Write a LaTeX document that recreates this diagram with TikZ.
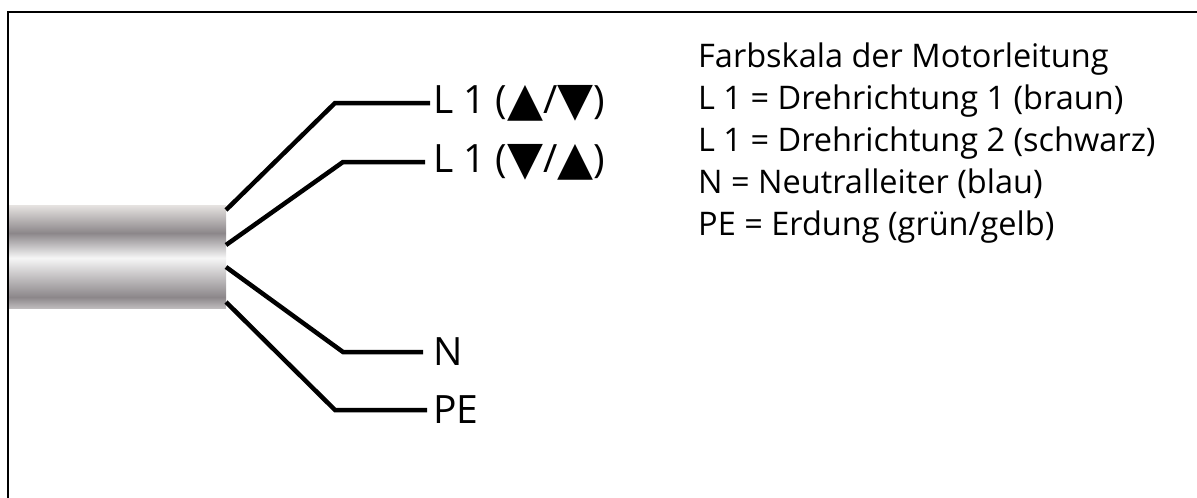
\documentclass[tikz,border=0pt]{standalone}
\usepackage{fontspec}
\setmainfont{Open Sans}
\newfontfamily\symfont{DejaVu Sans}
\usetikzlibrary{positioning}

\definecolor{cabtop}{RGB}{230,227,225}
\definecolor{cabdark}{RGB}{140,135,138}
\definecolor{cablight}{RGB}{246,246,246}
\definecolor{cabbot}{RGB}{190,187,188}
\pgfdeclareverticalshading{cableshade}{100bp}{color(0bp)=(cabbot); color(25bp)=(cabbot); color(30.3bp)=(cabdark); color(49.3bp)=(cablight); color(61.4bp)=(cabdark); color(75bp)=(cabtop); color(100bp)=(cabtop)}

\newcommand{\triup}{\raisebox{-0.04em}{\scalebox{1.2}{\symfont ▲}}}
\newcommand{\tridn}{\raisebox{-0.04em}{\scalebox{1.2}{\symfont ▼}}}

\begin{document}
\begin{tikzpicture}[x=1pt,y=1pt,yscale=-1,
  wire/.style={line width=4.5pt},
  lead/.style={inner sep=0pt,font=\fontsize{39}{39}\selectfont},
  legend/.style={anchor=north west,inner sep=0pt,align=left,font=\fontsize{32.5}{42}\selectfont}]
\useasboundingbox (0,0) rectangle (1197,498);

%Frame
\draw[line width=1.6pt] (8,498) -- (8,12) -- (1197,12);
%Cable
\shade[shading=cableshade] (9,205) rectangle (226,308);

%Wire ends at the cable
\coordinate (c1) at (226,210);
\coordinate (c2) at (226,245);
\coordinate (c3) at (226,267);
\coordinate (c4) at (226,302);
%Bends
\coordinate (b1) at (335,103);
\coordinate (b2) at (343,162);
\coordinate (b3) at (343,352);
\coordinate (b4) at (335,410);
%Free ends
\coordinate (e1) at (430,103);
\coordinate (e2) at (425,162);
\coordinate (e3) at (423,352);
\coordinate (e4) at (427,410);

% Text Node
\node[lead, right=3pt of e1] (la) {L 1 (\triup/\tridn)};
\node[lead, right=8pt of e2] (lb) {L 1 (\tridn/\triup)};
\node[lead, right=10pt of e3] (ln) {N};
\node[lead, right=6pt of e4] (lpe) {PE};

%Wires
\draw[wire] (c1) -- (b1) -- (e1);
\draw[wire] (c2) -- (b2) -- (e2);
\draw[wire] (c3) -- (b3) -- (e3);
\draw[wire] (c4) -- (b4) -- (e4);

%Legend
\node[legend] (key) at (698,43) {Farbskala der Motorleitung\\
L 1 = Drehrichtung 1 (braun)\\
L 1 = Drehrichtung 2 (schwarz)\\
N = Neutralleiter (blau)\\
PE = Erdung (grün/gelb)};
\end{tikzpicture}
\end{document}
